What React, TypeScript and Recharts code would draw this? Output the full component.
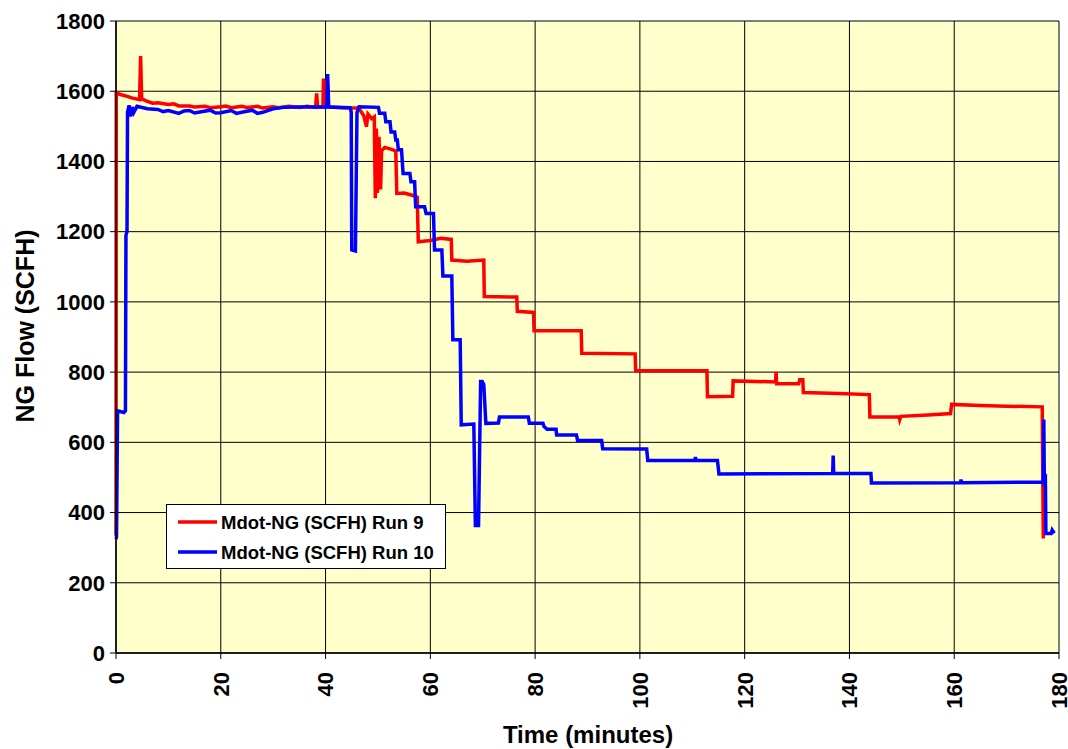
import React from 'react';
import { LineChart, Line, XAxis, YAxis, CartesianGrid, Legend } from 'recharts';

// Time (minutes), NG flow (SCFH) pairs
const run9: [number, number][] = [
  [0, 335], [0.05, 1595], [1, 1590], [2, 1586], [3, 1581], [4.5, 1576], [4.7, 1700], [4.9, 1578],
  [6, 1571], [7, 1566], [8, 1567], [10, 1562], [11, 1564], [12, 1558], [14, 1558], [15, 1555], [17, 1557],
  [18, 1553], [20, 1556], [21, 1558], [22, 1553], [24, 1557], [25, 1554], [27, 1557], [28, 1552],
  [30, 1556], [31, 1553], [33, 1557], [35, 1554], [36.5, 1557], [38.1, 1554], [38.3, 1594], [38.5, 1555],
  [39.5, 1555], [39.6, 1636], [39.8, 1560], [39.9, 1630], [40.1, 1556], [43, 1553], [46, 1552],
  [46.6, 1546], [47.3, 1530], [47.8, 1499], [48.1, 1535], [48.8, 1522], [49.3, 1527], [49.5, 1295],
  [49.7, 1494], [49.9, 1310], [50.2, 1470], [50.5, 1320], [50.7, 1430], [51.3, 1440], [52.3, 1436],
  [53.4, 1430], [53.6, 1309], [55, 1310], [56.7, 1303], [57.5, 1298], [57.7, 1171], [60, 1175],
  [62, 1181], [64, 1178], [64.1, 1119], [67, 1116], [70.2, 1119], [70.3, 1015], [76.5, 1014],
  [76.6, 973], [79.7, 970], [79.8, 918], [88.8, 918], [88.9, 854], [99.1, 852], [99.2, 804],
  [112.8, 804], [112.9, 730], [117.7, 731], [117.8, 775], [125.9, 772], [126, 801], [126.1, 767],
  [130.3, 767], [130.5, 778], [131.1, 778], [131.2, 742], [138, 739], [143.8, 736], [143.9, 672],
  [149.5, 672], [149.6, 665], [149.8, 674], [155, 678], [159.3, 682], [159.5, 708], [165, 705],
  [170, 703], [176.8, 701], [177, 326]
];

const run10: [number, number][] = [
  [0, 325], [0.1, 330], [0.3, 690], [1.5, 685], [1.8, 690], [1.9, 1190], [2.1, 1200], [2.2, 1540],
  [2.5, 1560], [2.8, 1528], [3.1, 1555], [3.4, 1540], [4, 1557], [6, 1550], [8, 1548], [9, 1542], [10, 1545],
  [12, 1537], [13, 1544], [14, 1545], [15, 1538], [16, 1541], [18, 1546], [19, 1538], [20, 1539], [22, 1545],
  [23, 1537], [24, 1540], [26, 1546], [27, 1537], [28, 1540], [30, 1550], [32, 1554], [35, 1555],
  [38, 1555], [40.2, 1555], [40.4, 1649], [40.6, 1555],
  [44.7, 1553], [44.9, 1540], [45.0, 1148], [45.7, 1145], [46.0, 1540], [46.4, 1556], [50.1, 1554],
  [50.3, 1537], [51.3, 1537], [51.5, 1513], [52.3, 1513], [52.5, 1484], [53.2, 1484], [53.4, 1461],
  [53.7, 1461], [53.9, 1433], [54.5, 1433], [54.8, 1366], [56.1, 1366], [56.3, 1342], [57.0, 1342],
  [57.2, 1271], [58.9, 1271], [59.2, 1252], [60.6, 1252], [60.8, 1148], [62.2, 1148], [62.4, 1074],
  [64.1, 1074], [64.3, 892], [65.7, 892], [65.9, 650], [68.3, 652], [68.6, 363], [69.2, 363],
  [69.6, 773], [69.9, 773], [70.2, 765], [70.6, 654], [73, 655], [73.2, 672], [78.7, 672],
  [78.9, 654], [81.5, 654], [81.7, 645], [82.3, 637], [84, 637], [84.1, 621], [87.9, 621],
  [88.1, 605], [92.7, 605], [92.9, 582], [101.3, 581], [101.5, 548], [110.5, 549], [110.6, 558],
  [110.7, 549], [114.8, 548], [115.1, 510], [136.8, 511], [136.9, 562], [137.0, 511], [144.1, 511],
  [144.2, 484], [161.2, 485], [161.3, 494], [161.4, 485], [177.0, 487], [177.1, 665], [177.2, 490],
  [177.4, 495], [177.5, 340], [178.5, 340], [178.7, 350], [179.1, 341]
];

const xTicks = [0, 20, 40, 60, 80, 100, 120, 140, 160, 180];
const yTicks = [0, 200, 400, 600, 800, 1000, 1200, 1400, 1600, 1800];
const seriesNames = ['Mdot-NG (SCFH) Run 9', 'Mdot-NG (SCFH) Run 10'];
const seriesColors = ['#FF0000', '#0000FF'];
const xTitle = 'Time (minutes)';
const yTitle = 'NG Flow (SCFH)';

const FONT = '"Liberation Sans", Arial, Helvetica, sans-serif';

const toRows = (pts: [number, number][]) => pts.map(([t, v]) => ({ t, v }));
const run9Rows = toRows(run9);
const run10Rows = toRows(run10);

const XTick = (props: any) => {
  const { x, y, payload } = props;
  const ty = y + 11;
  return (
    <text
      x={x}
      y={ty}
      transform={`rotate(-90 ${x} ${ty})`}
      textAnchor="end"
      dy="0.36em"
      fontFamily={FONT}
      fontWeight="bold"
      fontSize={22}
      fill="#000"
    >
      {payload.value}
    </text>
  );
};

const YTitle = () => (
  <text
    x={25}
    y={326}
    transform="rotate(-90 25 326)"
    textAnchor="middle"
    dy="0.36em"
    fontFamily={FONT}
    fontWeight="bold"
    fontSize={25}
    fill="#000"
  >
    {yTitle}
  </text>
);

const XTitle = () => (
  <text
    x={588}
    y={743}
    textAnchor="middle"
    fontFamily={FONT}
    fontWeight="bold"
    fontSize={24}
    fill="#000"
  >
    {xTitle}
  </text>
);

const LegendBox = () => (
  <svg width={280} height={65} style={{ display: 'block' }}>
    <rect x={0.5} y={0.5} width={279} height={64} fill="#fff" stroke="#000" strokeWidth={1} />
    {seriesNames.map((name, i) => (
      <g key={name}>
        <line x1={12} x2={51} y1={18 + i * 30} y2={18 + i * 30} stroke={seriesColors[i]} strokeWidth={3.5} />
        <text
          x={55}
          y={18 + i * 30}
          dy="0.36em"
          fontFamily={FONT}
          fontWeight="bold"
          fontSize={18.5}
          fill="#000"
        >
          {name}
        </text>
      </g>
    ))}
  </svg>
);

export default function App() {
  return (
    <div style={{ position: 'absolute', left: 0, top: 0, width: 1068, height: 749, background: '#fff' }}>
      <LineChart width={1068} height={749} margin={{ top: 21, right: 9, bottom: 0, left: 0 }}>
        <CartesianGrid stroke="#000" strokeWidth={1} fill="#FFFFCC" fillOpacity={1} />
        <XAxis
          type="number"
          dataKey="t"
          domain={[0, 180]}
          ticks={xTicks}
          interval={0}
          height={96}
          tickSize={6}
          axisLine={{ stroke: '#000', strokeWidth: 1.5 }}
          tickLine={{ stroke: '#000' }}
          tick={<XTick />}
          label={<XTitle />}
        />
        <YAxis
          type="number"
          domain={[0, 1800]}
          ticks={yTicks}
          interval={0}
          width={116}
          tickSize={6}
          tickMargin={5}
          axisLine={{ stroke: '#000', strokeWidth: 1.5 }}
          tickLine={{ stroke: '#000' }}
          tick={{ fontFamily: FONT, fontWeight: 'bold', fontSize: 22, fill: '#000' }}
          label={<YTitle />}
        />
        <Line
          data={run9Rows}
          dataKey="v"
          name={seriesNames[0]}
          type="linear"
          stroke={seriesColors[0]}
          strokeWidth={3.5}
          dot={false}
          activeDot={false}
          isAnimationActive={false}
        />
        <Line
          data={run10Rows}
          dataKey="v"
          name={seriesNames[1]}
          type="linear"
          stroke={seriesColors[1]}
          strokeWidth={3.5}
          dot={false}
          activeDot={false}
          isAnimationActive={false}
        />
        <Legend
          layout="horizontal"
          verticalAlign="middle"
          align="center"
          content={<LegendBox />}
          wrapperStyle={{ left: 166, top: 504, width: 280, height: 65 }}
        />
      </LineChart>
    </div>
  );
}
